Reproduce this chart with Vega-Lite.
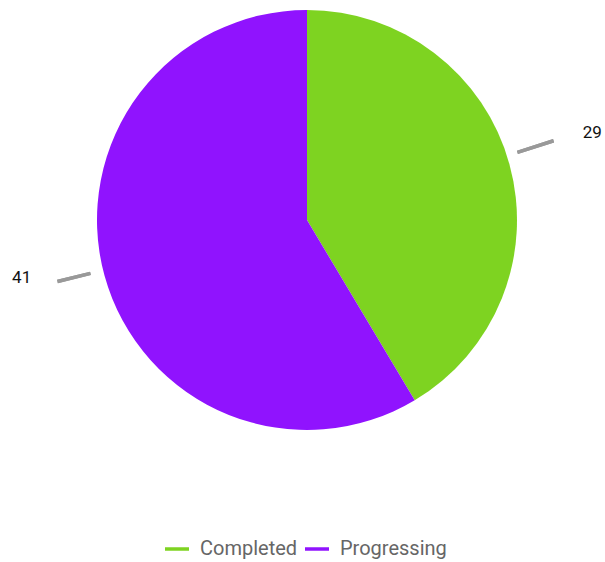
{
  "$schema": "https://vega.github.io/schema/vega-lite/v6.json",
  "width": 614,
  "height": 440,
  "autosize": {"type": "none"},
  "padding": {"left": 0, "top": 0, "right": 0, "bottom": 122},
  "background": "white",
  "data": {"values": [
    {"status": "Completed", "count": 29},
    {"status": "Progressing", "count": 41}
  ]},
  "layer": [
    {
      "mark": {"type": "arc", "outerRadius": 210},
      "encoding": {
        "theta": {"field": "count", "type": "quantitative", "stack": true},
        "color": {
          "field": "status", "type": "nominal",
          "scale": {"domain": ["Completed", "Progressing"], "range": ["#7ED321", "#9013FE"]},
          "legend": {
            "orient": "none", "legendX": 163, "legendY": 535, "direction": "horizontal",
            "title": null, "symbolType": "stroke", "symbolStrokeWidth": 3.5, "symbolSize": 576,
            "labelFontSize": 20, "labelColor": "#666666", "labelFont": "Roboto",
            "columnPadding": 0, "labelOffset": 9, "padding": 0,
            "encode": {"symbols": {"update": {"stroke": {"scale": "color", "field": "value"}}}}
          }
        }
      }
    },
    {
      "mark": {"type": "arc", "theta": 1.257, "theta2": 1.263, "radius": 222, "radius2": 258, "fill": "#999999", "stroke": "#999999", "strokeWidth": 2},
      "encoding": {}
    },
    {
      "mark": {"type": "arc", "theta": 4.468, "theta2": 4.474, "radius": 224, "radius2": 256, "fill": "#999999", "stroke": "#999999", "strokeWidth": 2},
      "encoding": {}
    },
    {
      "mark": {"type": "text", "radius": 296, "dy": -8, "fontSize": 17, "font": "Roboto", "color": "#111111"},
      "encoding": {
        "theta": {"field": "count", "type": "quantitative", "stack": true},
        "text": {"condition": {"test": "datum.status === 'Completed'", "field": "count", "type": "quantitative"}, "value": ""}
      }
    },
    {
      "mark": {"type": "text", "radius": 296, "dy": -21, "fontSize": 17, "font": "Roboto", "color": "#111111"},
      "encoding": {
        "theta": {"field": "count", "type": "quantitative", "stack": true},
        "text": {"condition": {"test": "datum.status === 'Progressing'", "field": "count", "type": "quantitative"}, "value": ""}
      }
    }
  ]
}
